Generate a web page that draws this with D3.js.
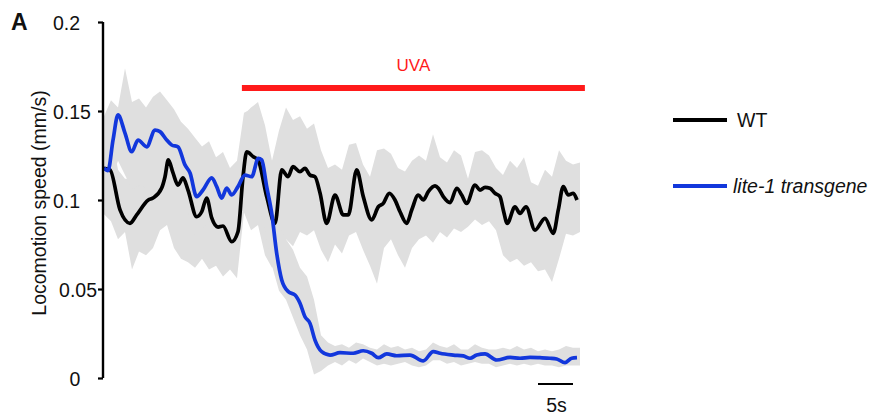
<!DOCTYPE html>
<html>
<head>
<meta charset="utf-8">
<script src="https://cdn.jsdelivr.net/npm/d3@7"></script>
<style>
  html, body { margin: 0; padding: 0; background: #fff; }
  svg { display: block; font-family: "Liberation Sans", Arial, sans-serif; }
</style>
</head>
<body>
<svg id="chart" width="875" height="417"></svg>
<script>
// ---------- data ----------
const yTicks = [0, 0.05, 0.1, 0.15, 0.2];
const yTickLabels = ["0", "0.05", "0.1", "0.15", "0.2"];
const seriesNames = ["WT", "lite-1 transgene"];
const uvaLabel = "UVA";
const uvaPeriod = [19.7, 68.7];       // seconds
const scaleBarSpan = [62, 67];        // 5 s
const scaleBarLabel = "5s";

// mean traces (time in s, speed in mm/s)
const wtTime = [0,0.86,2.29,3.71,4.67,6.33,7.0,8.24,8.71,9.19,9.86,10.57,11.29,12.0,13.24,13.96,14.67,15.39,16.29,17.0,18.24,19.14,19.86,20.39,21.33,22.0,23.24,24.43,25.39,26.29,27.0,28.0,28.71,29.43,30.14,30.86,31.81,33.0,34.19,34.9,36.1,37.04,38.24,39.19,39.9,40.76,41.57,42.29,43.24,43.96,44.9,45.61,46.33,47.29,47.76,48.47,49.43,50.39,51.1,51.81,53.0,53.71,54.43,55.14,55.86,56.57,57.04,57.61,58.71,59.43,60.29,61.57,63.0,64.19,64.9,65.61,66.33,67.04,67.57];
const wtSpeed = [0.1178,0.1169,0.0944,0.0869,0.0916,0.1000,0.1011,0.1067,0.1129,0.1225,0.1152,0.1084,0.1124,0.1056,0.0906,0.0934,0.1011,0.0899,0.0848,0.0854,0.0766,0.0822,0.1131,0.1270,0.1243,0.1225,0.1019,0.0869,0.1169,0.1131,0.1187,0.1159,0.1178,0.1140,0.1131,0.1039,0.0869,0.1028,0.0916,0.0916,0.1169,0.1019,0.0888,0.0962,0.0981,0.1038,0.1000,0.0934,0.0869,0.0944,0.1028,0.1000,0.1047,0.1079,0.1066,0.1019,0.0985,0.1066,0.1028,0.0981,0.1084,0.1056,0.1071,0.1066,0.1038,0.1019,0.0944,0.0869,0.0962,0.0925,0.0962,0.0831,0.0897,0.0813,0.0944,0.1075,0.1028,0.1038,0.1000];

const liteTime = [0,0.57,1.29,2.0,3.0,3.96,4.86,6.1,7.29,8.0,8.96,9.67,10.57,11.57,12.29,13.24,14.14,15.39,16.1,16.81,17.53,18.24,19.14,20.14,21.1,22.04,22.53,23.24,23.96,24.67,25.39,26.33,27.29,28.0,28.71,29.43,30.14,31.1,32.29,33.71,35.61,37.04,38.24,39.19,40.39,41.81,43.71,45.61,47.04,48.0,49.9,51.33,52.29,53.24,54.43,56.1,58.0,59.43,60.86,62.29,63.71,64.67,65.86,66.81,67.57];
const liteSpeed = [0.1180,0.1165,0.1337,0.1478,0.1376,0.1271,0.1337,0.1299,0.1393,0.1384,0.1337,0.1309,0.1299,0.1197,0.1152,0.1019,0.1056,0.1124,0.1075,0.1011,0.1067,0.1028,0.1075,0.1140,0.1131,0.1234,0.1225,0.1075,0.0925,0.0701,0.0551,0.0485,0.0466,0.0420,0.0344,0.0307,0.0213,0.0148,0.0129,0.0142,0.0139,0.0153,0.0139,0.0114,0.0135,0.0125,0.0129,0.0096,0.0148,0.0139,0.0129,0.0124,0.0111,0.0129,0.0135,0.0101,0.0116,0.0111,0.0116,0.0114,0.0111,0.0107,0.0086,0.0111,0.0114];

// spread (individual-trace envelope), sampled every second from 0 to 68 s
const bandTime = [0,1,2,3,4,5,6,7,8,9,10,11,12,13,14,15,16,17,18,19,20,21,22,23,24,25,26,27,28,29,30,31,32,33,34,35,36,37,38,39,40,41,42,43,44,45,46,47,48,49,50,51,52,53,54,55,56,57,58,59,60,61,62,63,64,65,66,67,68];
const wtUpper = [0.140,0.138,0.117,0.112,0.112,0.118,0.122,0.124,0.128,0.145,0.134,0.135,0.128,0.113,0.120,0.114,0.107,0.108,0.099,0.104,0.148,0.152,0.155,0.142,0.122,0.139,0.152,0.145,0.147,0.140,0.143,0.128,0.118,0.120,0.117,0.131,0.132,0.120,0.113,0.128,0.129,0.126,0.118,0.116,0.122,0.125,0.122,0.137,0.124,0.121,0.128,0.125,0.112,0.127,0.128,0.125,0.118,0.114,0.122,0.118,0.124,0.110,0.108,0.117,0.113,0.128,0.122,0.120,0.121];
const wtLower = [0.092,0.088,0.078,0.082,0.061,0.071,0.069,0.073,0.083,0.086,0.073,0.067,0.065,0.062,0.067,0.061,0.063,0.057,0.061,0.056,0.093,0.083,0.086,0.069,0.062,0.065,0.078,0.074,0.082,0.080,0.083,0.072,0.065,0.075,0.070,0.080,0.082,0.072,0.063,0.053,0.073,0.078,0.069,0.062,0.073,0.078,0.080,0.076,0.082,0.079,0.084,0.082,0.085,0.089,0.086,0.088,0.083,0.069,0.065,0.067,0.063,0.065,0.060,0.061,0.054,0.067,0.081,0.080,0.082];
const liteUpper = [0.147,0.156,0.152,0.174,0.155,0.157,0.152,0.158,0.161,0.156,0.151,0.144,0.140,0.135,0.130,0.133,0.124,0.127,0.118,0.122,0.149,0.151,0.153,0.139,0.117,0.086,0.078,0.072,0.062,0.057,0.044,0.024,0.020,0.018,0.019,0.017,0.020,0.019,0.017,0.016,0.019,0.017,0.018,0.016,0.017,0.015,0.016,0.020,0.018,0.017,0.019,0.016,0.016,0.019,0.017,0.016,0.016,0.017,0.016,0.018,0.016,0.017,0.015,0.016,0.015,0.016,0.018,0.017,0.017];
const liteLower = [0.096,0.111,0.122,0.114,0.106,0.108,0.107,0.114,0.116,0.111,0.107,0.100,0.093,0.080,0.083,0.088,0.084,0.081,0.080,0.084,0.100,0.097,0.100,0.083,0.063,0.049,0.044,0.034,0.024,0.016,0.002,0.004,0.007,0.009,0.007,0.010,0.008,0.011,0.009,0.007,0.008,0.007,0.008,0.009,0.007,0.006,0.007,0.010,0.010,0.008,0.009,0.007,0.008,0.009,0.008,0.008,0.006,0.007,0.008,0.007,0.008,0.007,0.008,0.007,0.007,0.006,0.007,0.007,0.007];

// ---------- drawing ----------
const svg = d3.select("#chart");
const x = d3.scaleLinear().domain([0, 68]).range([104, 580]);
const y = d3.scaleLinear().domain([0, 0.2]).range([378, 22]);

const GRAY = "#dfdfdf", BLUE = "#1237dc", RED = "#ff1a1a", FONT = 19.5;

const area = (lo, hi) => d3.area()
  .x((d, i) => x(bandTime[i]))
  .y0((d, i) => y(lo[i]))
  .y1((d, i) => y(hi[i]))
  .curve(d3.curveLinear)(bandTime);

svg.append("path").attr("d", area(wtLower, wtUpper)).attr("fill", GRAY);
svg.append("path").attr("d", area(liteLower, liteUpper)).attr("fill", GRAY);

const line = (ts, vs) => d3.line()
  .x((d, i) => x(ts[i]))
  .y((d, i) => y(vs[i]))
  .curve(d3.curveMonotoneX)(ts);

svg.append("path").attr("d", line(wtTime, wtSpeed))
  .attr("fill", "none").attr("stroke", "#000").attr("stroke-width", 3.7)
  .attr("stroke-linejoin", "round");
svg.append("path").attr("d", line(liteTime, liteSpeed))
  .attr("fill", "none").attr("stroke", BLUE).attr("stroke-width", 3.7)
  .attr("stroke-linejoin", "round");

// y axis
const yAxis = d3.axisLeft(y).tickValues(yTicks)
  .tickFormat((d, i) => yTickLabels[i]).tickSize(5).tickSizeOuter(0);
const gy = svg.append("g").attr("transform", "translate(103,0)").call(yAxis);
gy.select(".domain").attr("stroke", "#000").attr("stroke-width", 2.4)
  .attr("d", `M0,${y(0.2)}V${y(0)}`);
gy.selectAll(".tick line").attr("stroke", "#000").attr("stroke-width", 2.2);
gy.selectAll(".tick text")
  .attr("font-size", FONT).attr("fill", "#111")
  .attr("font-family", "'Liberation Sans', Arial, sans-serif")
  .attr("text-anchor", d => d >= 0.1 ? "start" : (d === 0 ? "middle" : "end"))
  .attr("x", d => d >= 0.1 ? -50 : (d === 0 ? -28 : -6))
  .attr("dy", "0.36em");

// y axis title
svg.append("text")
  .attr("transform", `translate(46,${y(0.1) + 3}) rotate(-90)`)
  .attr("text-anchor", "middle")
  .attr("font-size", FONT).attr("fill", "#111")
  .text("Locomotion speed (mm/s)");

// panel letter
svg.append("text").attr("x", 11).attr("y", 30)
  .attr("font-size", 23).attr("font-weight", "bold").attr("fill", "#111").text("A");

// UVA bar
svg.append("line")
  .attr("x1", x(uvaPeriod[0])).attr("x2", x(uvaPeriod[1]))
  .attr("y1", 88).attr("y2", 88)
  .attr("stroke", RED).attr("stroke-width", 6);
svg.append("text")
  .attr("x", (x(uvaPeriod[0]) + x(uvaPeriod[1])) / 2).attr("y", 71)
  .attr("text-anchor", "middle").attr("font-size", 17).attr("fill", RED)
  .text(uvaLabel);

// scale bar
svg.append("line")
  .attr("x1", x(scaleBarSpan[0])).attr("x2", x(scaleBarSpan[1]))
  .attr("y1", 384).attr("y2", 384)
  .attr("stroke", "#000").attr("stroke-width", 2);
svg.append("text")
  .attr("x", (x(scaleBarSpan[0]) + x(scaleBarSpan[1])) / 2 + 1).attr("y", 412)
  .attr("text-anchor", "middle").attr("font-size", FONT).attr("fill", "#111")
  .text(scaleBarLabel);

// legend
const legColors = ["#000", BLUE];
const legY = [120, 186];
const leg = svg.append("g");
seriesNames.forEach((name, i) => {
  leg.append("line").attr("x1", 673).attr("x2", 727)
    .attr("y1", legY[i]).attr("y2", legY[i])
    .attr("stroke", legColors[i]).attr("stroke-width", 4);
  leg.append("text").attr("x", i === 0 ? 737 : 733).attr("y", legY[i])
    .attr("dy", "0.36em").attr("font-size", FONT).attr("fill", "#111")
    .attr("font-style", i === 0 ? "normal" : "italic")
    .text(name);
});
</script>
</body>
</html>
